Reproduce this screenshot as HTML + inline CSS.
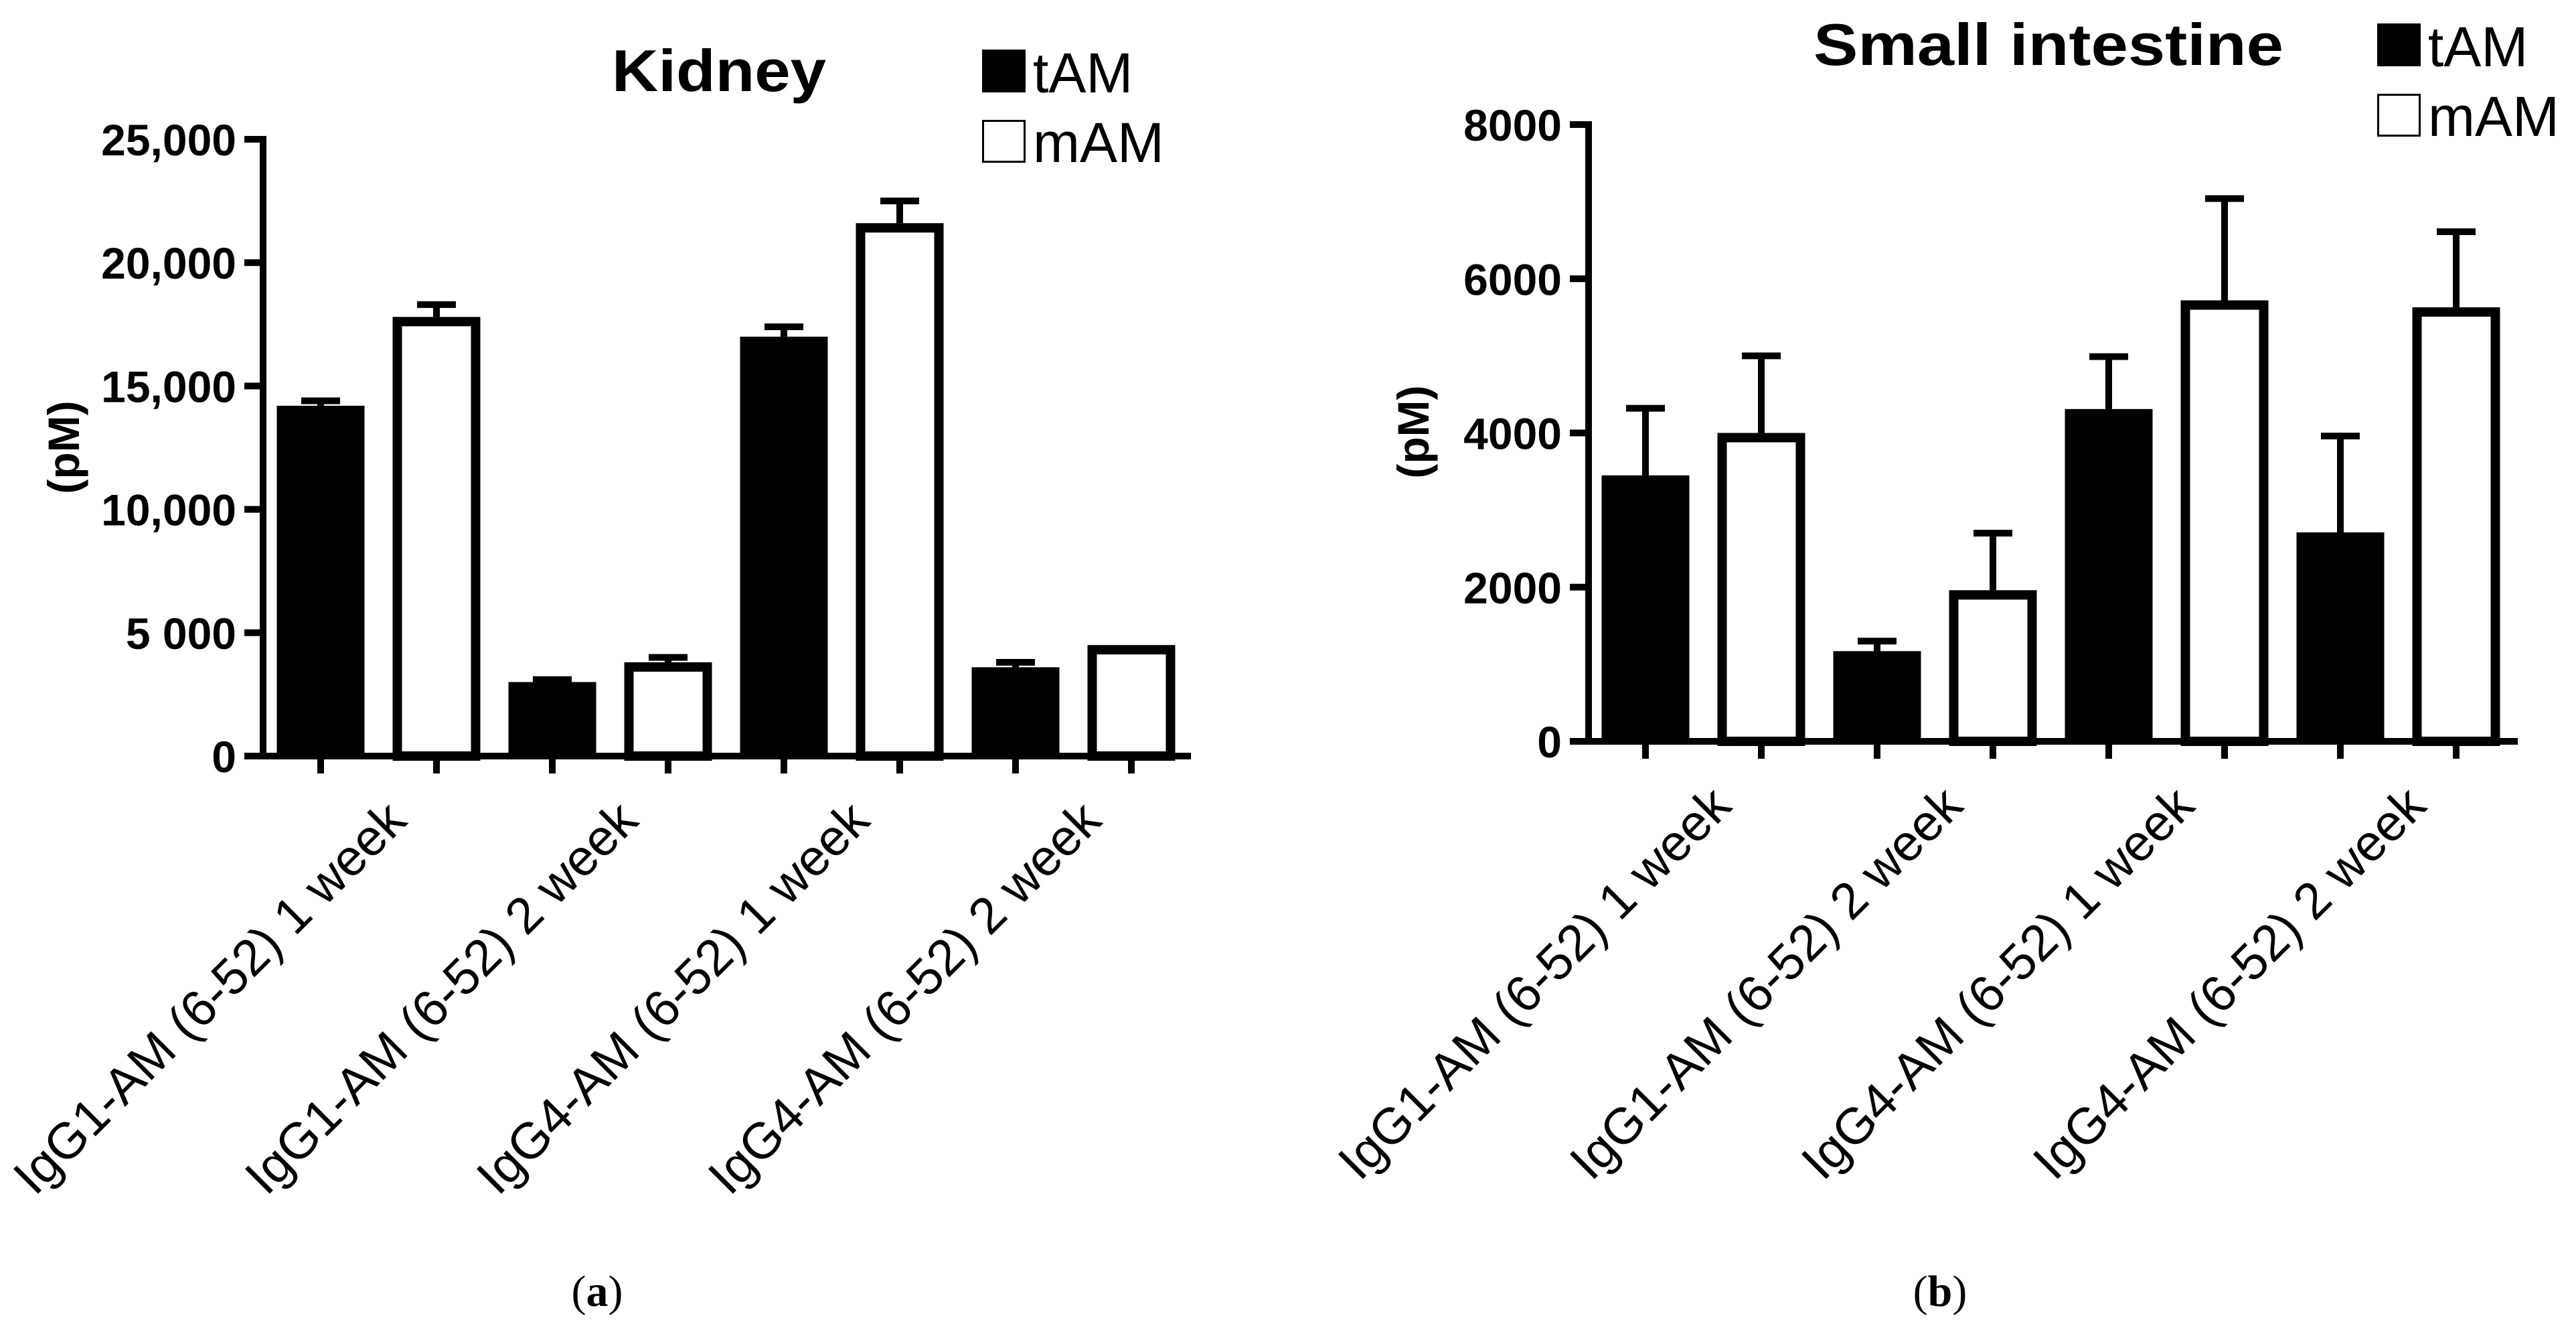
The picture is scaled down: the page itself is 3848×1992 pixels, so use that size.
<!DOCTYPE html>
<html><head><meta charset="utf-8"><style>
html,body{margin:0;padding:0;background:#fff;}
svg{display:block;}
.tick{font-family:"Liberation Sans",sans-serif;font-weight:bold;font-size:66px;}
.xl{font-family:"Liberation Sans",sans-serif;font-size:76px;}
.ttl{font-family:"Liberation Sans",sans-serif;font-weight:bold;font-size:88px;}
.leg{font-family:"Liberation Sans",sans-serif;font-size:84px;}
.cap{font-family:"Liberation Serif",serif;font-size:66px;}
</style></head><body>
<svg id="fig" width="3848" height="1992" viewBox="0 0 3848 1992" xmlns="http://www.w3.org/2000/svg"></svg>
<script>
const categories = ["IgG1-AM (6-52) 1 week","IgG1-AM (6-52) 2 week","IgG4-AM (6-52) 1 week","IgG4-AM (6-52) 2 week"];
const kidneyTam = [14200, 3000, 17000, 3600];
const kidneyTamErr = [200, 100, 400, 200];
const kidneyMam = [17800, 3800, 21600, 4500];
const kidneyMamErr = [500, 200, 900, 0];
const kidneyTicks = [0, 5000, 10000, 15000, 20000, 25000];
const kidneyTickLabels = ["0","5 000","10,000","15,000","20,000","25,000"];
const intTam = [3450, 1170, 4310, 2710];
const intTamErr = [870, 130, 680, 1250];
const intMam = [4000, 1960, 5720, 5630];
const intMamErr = [1000, 740, 1320, 980];
const intTicks = [0, 2000, 4000, 6000, 8000];
const intTickLabels = ["0","2000","4000","6000","8000"];

const NS = "http://www.w3.org/2000/svg";
const svg = document.getElementById("fig");
function mk(tag, attrs, parent, text) {
  const e = document.createElementNS(NS, tag);
  for (const k in attrs) e.setAttribute(k, attrs[k]);
  if (text !== undefined) e.textContent = text;
  (parent || svg).appendChild(e);
  return e;
}

function drawChart(cfg) {
  const g = mk("g", {});
  
  
  const yScale = v => cfg.y0 - (v / cfg.max) * (cfg.y0 - cfg.yTop);
  const xTick = i => cfg.x0 + cfg.first + i * cfg.step;
  const ya = mk("rect", {x: cfg.ax - 5, y: cfg.yTop - 5, width: 10, height: cfg.y0 - cfg.yTop + 10, fill: "#000"}, g);
  
  
  cfg.ticks.forEach((t, i) => {
    const y = yScale(t);
    const tk = mk("rect", {x: cfg.ax - 28, y: y - 5, width: 28, height: 10, fill: "#000"}, g);
    
    
    const tl = mk("text", {x: cfg.ax - 40, y: y + 24, "text-anchor": "end", class: "tick"}, g, cfg.tickLabels[i]);
    
    
  });
  const xa = mk("rect", {x: cfg.ax - 5, y: cfg.y0 - 5, width: cfg.xEnd - cfg.ax + 5, height: 10, fill: "#000"}, g);
  
  
  const bw = 131;
  categories.forEach((c, i) => {
    const series = [[cfg.tam, cfg.tamErr, true], [cfg.mam, cfg.mamErr, false]];
    series.forEach((s, j) => {
      const cx = xTick(2 * i + j);
      const v = s[0][i], e = s[1][i];
      const top = yScale(v);
      if (e > 0) {
        const et = yScale(v + e);
        const st = mk("rect", {x: cx - 5, y: et, width: 10, height: top - et, fill: "#000"}, g);
        
        
        const cp = mk("rect", {x: cx - 29, y: et - 5, width: 58, height: 10, fill: "#000"}, g);
        
        
      }
      let b;
      if (s[2]) {
        b = mk("rect", {x: cx - bw / 2, y: top, width: bw, height: cfg.y0 - top, fill: "#000"}, g);
        
      } else {
        b = mk("rect", {x: cx - bw / 2 + 7, y: top + 7, width: bw - 14, height: cfg.y0 - top - 7, fill: "#fff", stroke: "#000", "stroke-width": 14}, g);
        
      }
      
      const xt = mk("rect", {x: cx - 5, y: cfg.y0, width: 10, height: 26, fill: "#000"}, g);
      
      
    });
    const gc = (xTick(2 * i) + xTick(2 * i + 1)) / 2;
    const px = gc + 45, py = cfg.y0 + 100;
    const lab = mk("text", {x: px, y: py, "text-anchor": "end", class: "xl", transform: "rotate(-45 " + px + " " + py + ")"}, g, c);
    
    
  });
  const yt = mk("text", {x: 0, y: 0, "text-anchor": "middle", class: "tick", "font-size": "74", transform: "translate(" + cfg.ylabX + " " + cfg.ylabY + ") rotate(-90)"}, g, "(pM)");
  
  
  const tt = mk("text", {x: cfg.titleX, y: cfg.titleY, class: "ttl", textLength: cfg.titleW, lengthAdjust: "spacingAndGlyphs"}, g, cfg.title);
  
  
  const l1 = mk("rect", {x: cfg.legX, y: cfg.legY, width: 65, height: 64, fill: "#000"}, g);
  
  
  const t1 = mk("text", {x: cfg.legX + 76, y: cfg.legY + 64, class: "leg"}, g, "tAM");
  
  
  const l2 = mk("rect", {x: cfg.legX + 1.5, y: cfg.legY + 106.5, width: 62, height: 61, fill: "#fff", stroke: "#000", "stroke-width": 3}, g);
  
  
  const t2 = mk("text", {x: cfg.legX + 76, y: cfg.legY + 168, class: "leg"}, g, "mAM");
  
  
  const cp = mk("text", {x: cfg.capX, y: 1950, "text-anchor": "middle", class: "cap"}, g);
  
  
  mk("tspan", {}, cp, "(");
  mk("tspan", {"font-weight": "bold"}, cp, cfg.capLetter);
  mk("tspan", {}, cp, ")");
}

drawChart({name: "kidney-chart", ax: 393, x0: 393, first: 86, step: 173, y0: 1129, yTop: 208, xEnd: 1779, max: 25000,
  ticks: kidneyTicks, tickLabels: kidneyTickLabels, tam: kidneyTam, tamErr: kidneyTamErr, mam: kidneyMam, mamErr: kidneyMamErr,
  ylabX: 118, ylabY: 668, title: "Kidney", titleX: 914, titleY: 136, titleW: 320, legX: 1467, legY: 74, capX: 892, capLetter: "a"});
drawChart({name: "small-intestine-chart", ax: 2373, x0: 2373, first: 85, step: 173, y0: 1107, yTop: 186, xEnd: 3761, max: 8000,
  ticks: intTicks, tickLabels: intTickLabels, tam: intTam, tamErr: intTamErr, mam: intMam, mamErr: intMamErr,
  ylabX: 2134, ylabY: 645, title: "Small intestine", titleX: 2709, titleY: 97, titleW: 702, legX: 3551, legY: 35, capX: 2898, capLetter: "b"});
</script>
</body></html>
